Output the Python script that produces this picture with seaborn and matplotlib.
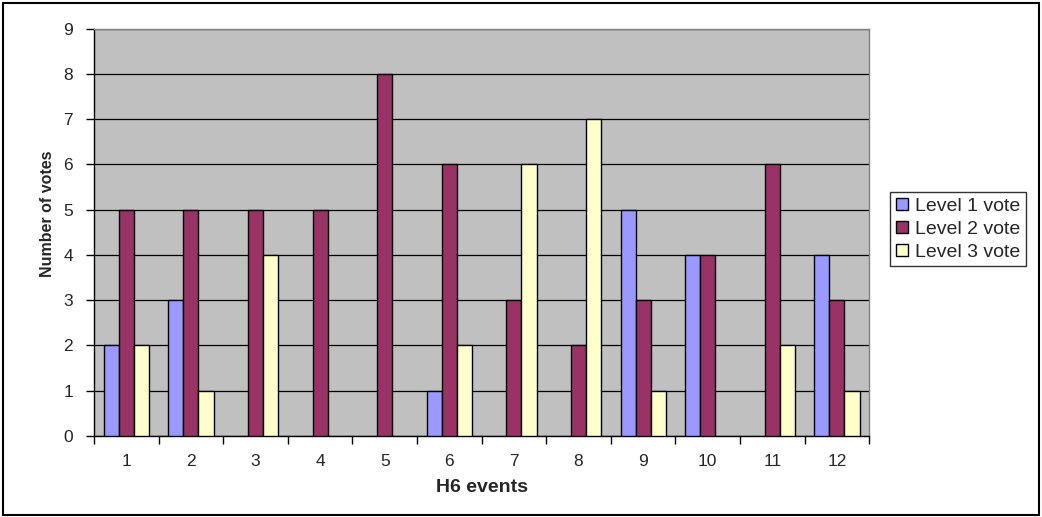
import numpy as np
import pandas as pd
import matplotlib
matplotlib.use("Agg")
import matplotlib.pyplot as plt
import seaborn as sns
from matplotlib.patches import Rectangle

events = [str(i) for i in range(1, 13)]
level1 = [2, 3, 0, 0, 0, 1, 0, 0, 5, 4, 0, 4]
level2 = [5, 5, 5, 5, 8, 6, 3, 2, 3, 4, 6, 3]
level3 = [2, 1, 4, 0, 0, 2, 6, 7, 1, 0, 2, 1]
series_names = ["Level 1 vote", "Level 2 vote", "Level 3 vote"]
y_ticks = list(range(0, 10))

df = pd.DataFrame({
    "event": events * 3,
    "votes": level1 + level2 + level3,
    "series": [series_names[0]] * 12 + [series_names[1]] * 12 + [series_names[2]] * 12,
})

sns.set_theme(style="white")
plt.rcParams["font.family"] = ["Liberation Sans", "DejaVu Sans"]

palette = {series_names[0]: "#9999FF", series_names[1]: "#993366", series_names[2]: "#FFFFCC"}

fig = plt.figure(figsize=(10.42, 5.17), dpi=100)
fig.patch.set_facecolor("white")
# outer chart border
fig.add_artist(Rectangle((0.003, 0.004), 0.994, 0.99, transform=fig.transFigure,
                         fill=False, edgecolor="black", linewidth=1.5))

ax = fig.add_axes([0.0902, 0.1567, 0.744, 0.788])
ax.set_facecolor("#C0C0C0")

sns.barplot(data=df, x="event", y="votes", hue="series", palette=palette,
            width=0.7, edgecolor="black", linewidth=1.0, saturation=1,
            ax=ax, legend=False, zorder=3)

# zero-valued bars leave no outline
for p in ax.patches:
    if p.get_height() == 0:
        p.set_visible(False)

ax.set_ylim(0, 9)
ax.set_xlim(-0.5, 11.5)
ax.set_yticks(y_ticks)
ax.yaxis.grid(True, color="black", linewidth=0.9, zorder=1)
ax.set_axisbelow(True)

for s in ["top", "right"]:
    ax.spines[s].set_color("#808080")
    ax.spines[s].set_linewidth(1.0)
for s in ["left", "bottom"]:
    ax.spines[s].set_color("black")
    ax.spines[s].set_linewidth(1.0)

ax.tick_params(axis="y", which="major", direction="out", length=6, width=1,
               color="black", labelsize=12.5, pad=9, left=True)
ax.tick_params(axis="x", which="major", length=0, labelsize=12.5, pad=13)
ax.set_xticks(np.arange(-0.5, 12, 1), minor=True)
ax.tick_params(axis="x", which="minor", direction="out", length=6, width=1,
               color="black", bottom=True)

ax.set_xlabel("H6 events", fontsize=14, fontweight="bold", labelpad=7)
ax.set_ylabel("Number of votes", fontsize=11.5, fontweight="bold",
              family=["Liberation Sans Narrow", "Liberation Sans", "DejaVu Sans"])
ax.yaxis.set_label_coords(-0.050, 0.545)

handles = [Rectangle((0, 0), 1, 1, facecolor=palette[n], edgecolor="black", linewidth=1)
           for n in series_names]
leg = fig.legend(handles, series_names, loc="upper left",
                 bbox_to_anchor=(890 / 1042, 1 - 192 / 517),
                 frameon=True, fancybox=False, fontsize=14,
                 handlelength=0.6, handleheight=0.6, handletextpad=0.4,
                 borderpad=0.3, labelspacing=0.3, borderaxespad=0)
leg.get_frame().set_edgecolor("black")
leg.get_frame().set_linewidth(1.0)

fig.savefig("out.png", dpi=100, facecolor="white")
